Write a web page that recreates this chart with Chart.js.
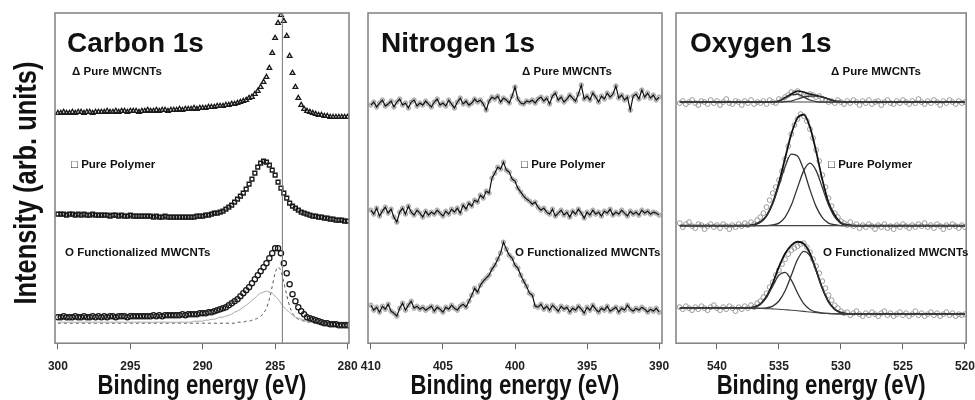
<!DOCTYPE html>
<html>
<head>
<meta charset="utf-8">
<script src="https://cdn.jsdelivr.net/npm/chart.js@4.4.1/dist/chart.umd.min.js"></script>
<style>
  body { margin: 0; background: #fff; }
  #wrap { position: relative; width: 975px; height: 400px; }
  #wrap canvas { position: absolute; left: 0; top: 0; }
</style>
</head>
<body>
<div id="wrap">
  <canvas id="chartC" width="975" height="400"></canvas>
  <canvas id="chartN" width="975" height="400"></canvas>
  <canvas id="chartO" width="975" height="400"></canvas>
</div>
<script>
// ---- Carbon 1s (binding energy, eV) ----
const C_E = [
  300.0,299.8,299.6,299.4,299.2,299.0,298.8,298.6,298.4,298.2,
  298.0,297.8,297.6,297.4,297.2,297.0,296.8,296.6,296.4,296.2,
  296.0,295.8,295.6,295.4,295.2,295.0,294.8,294.6,294.4,294.2,
  294.0,293.8,293.6,293.4,293.2,293.0,292.8,292.6,292.4,292.2,
  292.0,291.8,291.6,291.4,291.2,291.0,290.8,290.6,290.4,290.2,
  290.0,289.8,289.6,289.4,289.2,289.0,288.8,288.6,288.4,288.2,
  288.0,287.8,287.6,287.4,287.2,287.0,286.8,286.6,286.4,286.2,
  286.0,285.8,285.6,285.4,285.2,285.0,284.8,284.6,284.4,284.2,
  284.0,283.8,283.6,283.4,283.2,283.0,282.8,282.6,282.4,282.2,
  282.0,281.8,281.6,281.4,281.2,281.0,280.8,280.6,280.4,280.2,
  280.0
];
const C_MWCNT = [
  230,230,231,230,230,231,230,231,231,230,
  231,231,230,231,231,231,231,232,231,231,
  232,231,232,232,231,232,232,232,231,232,
  232,233,232,232,233,232,233,233,232,233,
  233,233,234,233,234,234,234,235,234,235,
  235,235,236,236,236,237,237,237,238,238,
  239,239,240,241,242,243,245,246,249,252,
  256,261,266,275,290,305,320,328,322,307,
  287,270,256,245,238,234,232,231,230,229,
  228,228,227,227,226,226,226,226,226,226,
  226
];
const C_POLYMER = [
  129,129,129,128,129,129,128,129,128,129,
  128,128,129,128,128,128,128,128,127,128,
  128,127,128,127,127,128,127,127,127,127,
  127,127,127,126,127,126,126,127,126,126,
  126,126,126,126,126,126,126,126,127,127,
  127,128,128,129,130,130,131,132,134,136,
  138,141,144,147,150,154,159,164,170,176,
  180,182,181,178,173,168,161,155,150,145,
  140,137,135,133,131,130,129,128,127,127,
  126,126,125,125,124,124,123,123,123,122,
  122
];
const C_FUNC = [
  26,26,27,26,26,26,27,26,26,27,
  26,26,27,26,27,26,27,26,27,27,
  26,27,27,27,26,27,27,27,27,27,
  27,27,27,28,27,28,27,28,28,28,
  28,28,28,29,28,29,29,29,29,30,
  30,30,31,31,32,33,34,35,36,38,
  40,42,44,47,50,53,56,60,64,68,
  72,76,80,85,90,95,95,90,80,70,
  59,49,42,36,32,29,26,25,24,23,
  22,21,20,20,19,19,19,18,18,18,
  18
];
// fitted components of the functionalized sample
const C_FIT_BROAD = [
  21,21,21,21,21,21,21,21,21,21,
  21,21,21,21,21,21,21,21,21,21,
  21,21,21,21,21,21,21,21,21,21,
  21,21,21,21,21,21,21,21,21,21,
  21,21,21,21,21,21,21,22,22,22,
  22,23,23,24,24,25,26,26,27,28,
  29,31,32,34,36,38,40,43,45,48,
  50,51,52,51,50,47,44,40,36,33,
  31,28,26,25,24,23,22,22,21,21,
  21,21,21,21,21,21,21,21,21,21,
  21
];
const C_FIT_NARROW = [
  20,20,20,20,20,20,20,20,20,20,
  20,20,20,20,20,20,20,20,20,20,
  20,20,20,20,20,20,20,20,20,20,
  20,20,20,20,20,20,20,20,20,20,
  20,20,20,20,20,20,20,20,20,20,
  20,20,20,20,20,20,20,20,20,20,
  20,20,21,21,21,22,22,23,24,25,
  27,30,35,44,57,70,76,72,61,48,
  37,30,26,24,23,22,21,21,20,20,
  20,20,20,20,20,20,20,20,20,20,
  20
];
const C_REF_E = 284.5;
const C_TICKS = [300, 295, 290, 285, 280];

// ---- Nitrogen 1s ----
const N_E = [
  410.0,409.8,409.6,409.4,409.2,409.0,408.8,408.6,408.4,408.2,
  408.0,407.8,407.6,407.4,407.2,407.0,406.8,406.6,406.4,406.2,
  406.0,405.8,405.6,405.4,405.2,405.0,404.8,404.6,404.4,404.2,
  404.0,403.8,403.6,403.4,403.2,403.0,402.8,402.6,402.4,402.2,
  402.0,401.8,401.6,401.4,401.2,401.0,400.8,400.6,400.4,400.2,
  400.0,399.8,399.6,399.4,399.2,399.0,398.8,398.6,398.4,398.2,
  398.0,397.8,397.6,397.4,397.2,397.0,396.8,396.6,396.4,396.2,
  396.0,395.8,395.6,395.4,395.2,395.0,394.8,394.6,394.4,394.2,
  394.0,393.8,393.6,393.4,393.2,393.0,392.8,392.6,392.4,392.2,
  392.0,391.8,391.6,391.4,391.2,391.0,390.8,390.6,390.4,390.2,
  390.0
];
const N_MWCNT = [
  238,241,236,240,243,237,239,242,236,241,
  244,238,240,235,241,243,237,240,238,242,
  239,236,241,244,238,240,237,243,239,235,
  241,245,239,242,238,240,244,241,243,239,
  233,242,246,244,247,241,245,243,240,247,
  256,244,240,239,242,241,243,240,244,246,
  242,245,239,247,250,243,246,241,244,248,
  245,242,249,258,244,247,243,250,246,241,
  247,244,250,246,249,257,245,248,243,246,
  233,247,249,244,253,246,250,245,248,243,
  246
];
const N_POLYMER = [
  133,129,135,127,132,136,130,134,126,121,
  131,135,129,137,131,128,133,130,126,132,
  128,131,129,133,130,127,132,129,134,131,
  135,130,138,134,140,137,143,141,148,145,
  152,150,165,170,176,174,181,173,171,164,
  162,155,151,147,144,142,139,141,136,133,
  135,131,129,134,127,130,133,128,131,126,
  132,129,134,130,125,131,128,133,129,131,
  127,132,130,134,128,131,129,133,130,127,
  132,129,131,128,133,130,132,129,131,130,
  128
];
const N_FUNC = [
  38,33,36,31,37,34,39,32,30,27,
  35,40,33,38,42,35,37,34,36,33,
  35,37,32,36,34,31,36,34,38,35,
  33,37,39,36,42,48,55,51,58,62,
  65,68,74,78,84,90,101,94,88,85,
  78,75,68,62,57,50,48,37,36,39,
  34,37,33,38,35,32,37,34,36,31,
  35,33,37,34,30,36,33,38,34,31,
  35,33,37,32,34,36,31,35,33,38,
  34,32,35,33,36,34,31,34,32,35,
  31
];
const N_TICKS = [410, 405, 400, 395, 390];

// ---- Oxygen 1s ----
const O_E = [
  543.0,542.75,542.5,542.25,542.0,541.75,541.5,541.25,541.0,540.75,
  540.5,540.25,540.0,539.75,539.5,539.25,539.0,538.75,538.5,538.25,
  538.0,537.75,537.5,537.25,537.0,536.75,536.5,536.25,536.0,535.75,
  535.5,535.25,535.0,534.75,534.5,534.25,534.0,533.75,533.5,533.25,
  533.0,532.75,532.5,532.25,532.0,531.75,531.5,531.25,531.0,530.75,
  530.5,530.25,530.0,529.75,529.5,529.25,529.0,528.75,528.5,528.25,
  528.0,527.75,527.5,527.25,527.0,526.75,526.5,526.25,526.0,525.75,
  525.5,525.25,525.0,524.75,524.5,524.25,524.0,523.75,523.5,523.25,
  523.0,522.75,522.5,522.25,522.0,521.75,521.5,521.25,521.0,520.75,
  520.5,520.25,520.0
];
const O_MWCNT = [
  240,242,239,241,243,240,238,242,241,239,
  243,240,242,238,241,244,240,239,242,241,
  238,242,240,243,239,241,240,242,239,243,
  241,240,244,243,246,248,251,250,252,249,
  248,247,249,248,246,247,244,243,241,242,
  240,243,241,239,242,240,243,241,238,242,
  240,243,239,241,242,238,241,243,240,239,
  242,240,243,241,239,242,240,244,241,239,
  242,240,243,241,238,242,240,243,241,239,
  242,240,241
];
const O_POLYMER = [
  120,116,119,121,117,115,119,118,114,117,
  119,116,118,115,119,117,114,118,116,119,
  117,120,118,121,119,123,126,130,136,143,
  150,156,163,172,184,197,209,218,224,229,
  227,222,214,205,193,182,168,156,145,137,
  130,126,122,120,118,121,117,119,115,118,
  116,119,117,114,118,116,119,115,117,114,
  118,116,119,117,115,118,116,119,117,120,
  116,118,115,119,117,114,118,116,119,117,
  115,118,116
];
const O_FUNC = [
  36,34,37,35,33,36,34,37,35,33,
  36,38,35,33,36,34,37,35,32,36,
  34,37,35,38,36,40,42,46,50,56,
  61,68,73,79,84,89,93,95,97,99,
  100,96,91,84,77,70,62,55,48,43,
  38,35,32,30,31,28,30,32,29,27,
  30,28,31,29,27,30,32,28,30,27,
  29,31,28,30,27,29,32,28,30,27,
  29,31,28,30,27,29,31,28,30,27,
  29,28,29
];
// peak-fit curves, sampled every 0.5 eV
const O_FIT_E = [
  543,542.5,542,541.5,541,540.5,540,539.5,539,538.5,
  538,537.5,537,536.5,536,535.5,535,534.5,534,533.5,
  533,532.5,532,531.5,531,530.5,530,529.5,529,528.5,
  528,527.5,527,526.5,526,525.5,525,524.5,524,523.5,
  523,522.5,522,521.5,521,520.5,520
];
const O_MWCNT_BG = [
  241,241,241,241,241,241,241,241,241,241,
  241,241,241,241,241,241,241,241,241,241,
  241,241,241,241,241,241,241,241,241,241,
  241,241,241,241,241,241,241,241,241,241,
  241,241,241,241,241,241,241
];
const O_MWCNT_P1 = [
  241,241,241,241,241,241,241,241,241,241,
  241,241,241,241,241,241,242,245,248,249,
  246,243,241.5,241,241,241,241,241,241,241,
  241,241,241,241,241,241,241,241,241,241,
  241,241,241,241,241,241,241
];
const O_MWCNT_P2 = [
  241,241,241,241,241,241,241,241,241,241,
  241,241,241,241,241,241,241,241.5,242,244,
  246,247,247,246,244,242,241.5,241,241,241,
  241,241,241,241,241,241,241,241,241,241,
  241,241,241,241,241,241,241
];
const O_MWCNT_SUM = [
  241,241,241,241,241,241,241,241,241,241,
  241,241,241,241,241,241,242,245.5,249,252,
  251,249,247.5,246,244,242,241.5,241,241,241,
  241,241,241,241,241,241,241,241,241,241,
  241,241,241,241,241,241,241
];
const O_POLY_BG = [
  117.5,117.5,117.5,117.5,117.5,117.5,117.5,117.5,117.5,117.5,
  117.5,117.5,117.5,117.5,117.5,117.5,117.5,117.5,117.5,117.5,
  117.5,117.5,117.5,117.5,117.5,117.5,117.5,117.5,117.5,117.5,
  117.5,117.5,117.5,117.5,117.5,117.5,117.5,117.5,117.5,117.5,
  117.5,117.5,117.5,117.5,117.5,117.5,117.5
];
const O_POLY_P1 = [
  117.5,117.5,117.5,117.5,117.5,117.5,117.5,117.5,117.5,117.5,
  117.5,117.5,118.6,121,127,139.5,157.5,176.5,189,187,
  173,153.5,136.5,125.5,120,118.5,117.5,117.5,117.5,117.5,
  117.5,117.5,117.5,117.5,117.5,117.5,117.5,117.5,117.5,117.5,
  117.5,117.5,117.5,117.5,117.5,117.5,117.5
];
const O_POLY_P2 = [
  117.5,117.5,117.5,117.5,117.5,117.5,117.5,117.5,117.5,117.5,
  117.5,117.5,117.5,117.5,117.5,118.2,120,126,138,155.5,
  172.5,180,172.5,155.5,138,126,120,118.2,117.5,117.5,
  117.5,117.5,117.5,117.5,117.5,117.5,117.5,117.5,117.5,117.5,
  117.5,117.5,117.5,117.5,117.5,117.5,117.5
];
const O_POLY_SUM = [
  117.5,117.5,117.5,117.5,117.5,117.5,117.5,117.5,117.5,117.5,
  117.5,117.5,118.6,121.1,127.4,140.2,160.2,185,209.1,225.2,
  228.4,216,191.7,163.5,140.6,127.8,120.2,118.2,117.5,117.5,
  117.5,117.5,117.5,117.5,117.5,117.5,117.5,117.5,117.5,117.5,
  117.5,117.5,117.5,117.5,117.5,117.5,117.5
];
const O_FUNC_BG = [
  35,35,35,35,35,35,35,35,35,35,
  35,35,35,34.8,34.6,34.3,34,33.5,33,32.4,
  31.8,31.2,30.6,30.1,29.7,29.4,29.2,29,29,29,
  29,29,29,29,29,29,29,29,29,29,
  29,29,29,29,29,29,29
];
const O_FUNC_P1 = [
  35,35,35,35,35,35,35,35,35,35,
  35,35,36.1,38.8,45.8,57.1,68,70.8,63,50.2,
  39.5,33.7,31.2,30.1,29.7,29.4,29.2,29,29,29,
  29,29,29,29,29,29,29,29,29,29,
  29,29,29,29,29,29,29
];
const O_FUNC_P2 = [
  35,35,35,35,35,35,35,35,35,35,
  35,35,35,34.9,35.4,37.1,42.2,52.4,67.8,83.6,
  91.8,87.3,72.4,54.9,41.4,33.8,30.5,29.3,29,29,
  29,29,29,29,29,29,29,29,29,29,
  29,29,29,29,29,29,29
];
const O_FUNC_SUM = [
  35,35,35,35,35,35,35,35,35,35,
  35,35,36.1,39,46.6,59.9,76.2,89.7,97.8,101.4,
  99.5,89.8,73,54.9,41.4,33.8,30.5,29.3,29,29,
  29,29,29,29,29,29,29,29,29,29,
  29,29,29,29,29,29,29
];
const O_TICKS = [540, 535, 530, 525, 520];

const LABEL_MWCNT = '\u0394 Pure MWCNTs';
const LABEL_POLY = '\u25A1 Pure Polymer';
const LABEL_FUNC = 'O Functionalized MWCNTs';

// pair an energy axis with intensities
const pts = (xs, ys) => xs.map((x, i) => ({ x: x, y: ys[i] }));

const SANS = "'Liberation Sans', Arial, sans-serif";

// axis titles are set in a narrow face: squeeze the library's own title along the text
function condenseTitle(k, vertical, shift) {
  return (scale) => {
    if (scale._condensed) return;
    scale._condensed = true;
    const orig = scale.drawTitle;
    scale.drawTitle = function () {
      const ctx = this.ctx;
      ctx.save();
      if (vertical) {
        const cy = (this.top + this.bottom) / 2;
        ctx.translate(0, cy + (shift || 0)); ctx.scale(1, k); ctx.translate(0, -cy);
      } else {
        const cx = (this.left + this.right) / 2;
        ctx.translate(cx + (shift || 0), 0); ctx.scale(k, 1); ctx.translate(-cx, 0);
      }
      orig.call(this);
      ctx.restore();
    };
  };
}

// frame round the plot area, the element name and the sample labels
const panelDecor = {
  id: 'panelDecor',
  afterDraw(chart, args, opts) {
    const { ctx, chartArea: a } = chart;
    ctx.save();
    ctx.strokeStyle = '#808080';
    ctx.lineWidth = 1.5;
    ctx.strokeRect(a.left, a.top, a.right - a.left, a.bottom - a.top);
    ctx.fillStyle = '#111';
    ctx.textBaseline = 'alphabetic';
    ctx.font = 'bold 28px ' + SANS;
    ctx.fillText(opts.title, a.left + opts.titleDx, 52);
    ctx.font = 'bold 11.5px ' + SANS;
    ctx.textBaseline = 'middle';
    opts.labels.forEach(l => ctx.fillText(l.text, a.left + l.dx, l.y));
    ctx.restore();
  }
};

function xAxis(min, max, ticks) {
  return {
    type: 'linear',
    reverse: true,
    min: min,
    max: max,
    afterBuildTicks: s => { s.ticks = ticks.map(v => ({ value: v })); },
    afterUpdate: condenseTitle(0.79, false, 0),
    grid: { drawOnChartArea: false, drawTicks: true, tickLength: 6, color: '#666' },
    border: { display: false },
    ticks: {
      color: '#222',
      padding: 0,
      maxRotation: 0,
      autoSkip: false,
      font: { family: SANS, size: 12, weight: 'bold', lineHeight: 2.9 }
    },
    title: {
      display: true,
      text: 'Binding energy (eV)',
      color: '#111',
      padding: { top: -12, bottom: 0 },
      font: { family: SANS, size: 28, weight: 'bold', lineHeight: 1 }
    }
  };
}

const baseOptions = {
  responsive: false,
  animation: false,
  events: [],
  plugins: { legend: { display: false }, tooltip: { enabled: false } }
};

//grafica Carbon 1s
new Chart(document.getElementById('chartC').getContext('2d'), {
  type: 'line',
  data: {
    datasets: [
      {
        data: [{ x: C_REF_E, y: 0 }, { x: C_REF_E, y: 330 }],
        borderColor: '#777', borderWidth: 1, pointRadius: 0
      },
      {
        data: pts(C_E, C_MWCNT), showLine: false,
        pointStyle: 'triangle', pointRadius: 2.7, pointBorderWidth: 1.3,
        pointBorderColor: '#1a1a1a', pointBackgroundColor: 'rgba(255,255,255,0)'
      },
      {
        data: pts(C_E, C_POLYMER), showLine: false,
        pointStyle: 'rect', pointRadius: 2.7, pointBorderWidth: 1.4,
        pointBorderColor: '#1a1a1a', pointBackgroundColor: 'rgba(255,255,255,0)'
      },
      {
        data: pts(C_E, C_FUNC), showLine: false,
        pointStyle: 'circle', pointRadius: 2.6, pointBorderWidth: 1.3,
        pointBorderColor: '#1a1a1a', pointBackgroundColor: 'rgba(255,255,255,0)'
      },
      {
        data: pts(C_E, C_FIT_BROAD), borderColor: '#a8a8a8', borderWidth: 1,
        pointRadius: 0, cubicInterpolationMode: 'monotone'
      },
      {
        data: pts(C_E, C_FIT_NARROW), borderColor: '#555', borderWidth: 1,
        borderDash: [3, 3], pointRadius: 0, cubicInterpolationMode: 'monotone'
      }
    ]
  },
  options: {
    ...baseOptions,
    layout: { padding: { left: 12, top: 13, right: 626, bottom: 0 } },
    scales: {
      x: xAxis(279.9, 300.2, C_TICKS),
      y: {
        min: 0, max: 330,
        afterUpdate: condenseTitle(0.82, true, 5),
        ticks: { display: false },
        grid: { display: false, drawTicks: false },
        border: { display: false },
        title: {
          display: true,
          text: 'Intensity (arb. units)',
          color: '#111',
          padding: { top: 0, bottom: 12 },
          font: { family: SANS, size: 31, weight: 'bold', lineHeight: 1 }
        }
      }
    },
    plugins: {
      ...baseOptions.plugins,
      panelDecor: {
        title: 'Carbon 1s', titleDx: 12,
        labels: [
          { text: LABEL_MWCNT, dx: 17, y: 72 },
          { text: LABEL_POLY, dx: 16, y: 165 },
          { text: LABEL_FUNC, dx: 10, y: 253 }
        ]
      }
    }
  },
  plugins: [panelDecor]
});

//grafica Nitrogen 1s
const nLine = (ys) => ({
  data: pts(N_E, ys), borderColor: '#111', borderWidth: 1.2,
  pointRadius: 0, tension: 0, order: 0
});
const nHalo = (ys) => ({
  data: pts(N_E, ys), showLine: false, pointRadius: 2.2,
  pointBorderWidth: 1, pointBorderColor: '#a5a5a5', pointBackgroundColor: '#c8c8c8', order: 1
});

new Chart(document.getElementById('chartN').getContext('2d'), {
  type: 'line',
  data: {
    datasets: [
      nLine(N_MWCNT), nLine(N_POLYMER), nLine(N_FUNC),
      nHalo(N_MWCNT), nHalo(N_POLYMER), nHalo(N_FUNC)
    ]
  },
  options: {
    ...baseOptions,
    layout: { padding: { left: 368, top: 13, right: 313, bottom: 0 } },
    scales: {
      x: xAxis(389.8, 410.2, N_TICKS),
      y: { display: false, min: 0, max: 330 }
    },
    plugins: {
      ...baseOptions.plugins,
      panelDecor: {
        title: 'Nitrogen 1s', titleDx: 13,
        labels: [
          { text: LABEL_MWCNT, dx: 154, y: 72 },
          { text: LABEL_POLY, dx: 153, y: 165 },
          { text: LABEL_FUNC, dx: 147, y: 253 }
        ]
      }
    }
  },
  plugins: [panelDecor]
});

//grafica Oxygen 1s
const oData = (ys) => ({
  data: pts(O_E, ys), showLine: false, pointStyle: 'circle', pointRadius: 2.4,
  pointBorderWidth: 1, pointBorderColor: '#9a9a9a',
  pointBackgroundColor: 'rgba(255,255,255,0)', order: 2
});
const oFit = (ys, w, c) => ({
  data: pts(O_FIT_E, ys), borderColor: c, borderWidth: w, pointRadius: 0,
  cubicInterpolationMode: 'monotone', order: 0
});

new Chart(document.getElementById('chartO').getContext('2d'), {
  type: 'line',
  data: {
    datasets: [
      oData(O_MWCNT), oData(O_POLYMER), oData(O_FUNC),
      oFit(O_MWCNT_BG, 1.1, '#444'), oFit(O_MWCNT_P1, 1.2, '#333'),
      oFit(O_MWCNT_P2, 1.2, '#333'), oFit(O_MWCNT_SUM, 1.6, '#111'),
      oFit(O_POLY_BG, 1.1, '#444'), oFit(O_POLY_P1, 1.3, '#333'),
      oFit(O_POLY_P2, 1.3, '#333'), oFit(O_POLY_SUM, 1.8, '#111'),
      oFit(O_FUNC_BG, 1.1, '#444'), oFit(O_FUNC_P1, 1.3, '#333'),
      oFit(O_FUNC_P2, 1.3, '#333'), oFit(O_FUNC_SUM, 1.8, '#111')
    ]
  },
  options: {
    ...baseOptions,
    layout: { padding: { left: 676, top: 13, right: 7, bottom: 0 } },
    scales: {
      x: xAxis(519.9, 543.3, O_TICKS),
      y: { display: false, min: 0, max: 330 }
    },
    plugins: {
      ...baseOptions.plugins,
      panelDecor: {
        title: 'Oxygen 1s', titleDx: 14,
        labels: [
          { text: LABEL_MWCNT, dx: 155, y: 72 },
          { text: LABEL_POLY, dx: 152, y: 165 },
          { text: LABEL_FUNC, dx: 147, y: 253 }
        ]
      }
    }
  },
  plugins: [panelDecor]
});
</script>
</body>
</html>
